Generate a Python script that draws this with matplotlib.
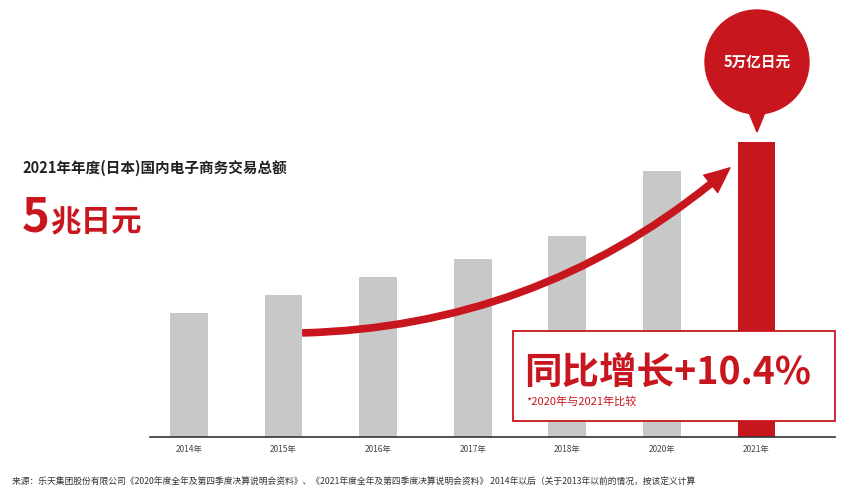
import matplotlib.pyplot as plt
import matplotlib.patches as patch

plt.rcParams['font.family'] = ['Noto Sans CJK SC', 'DejaVu Sans']

years = ['2014年', '2015年', '2016年', '2017年', '2018年', '2020年', '2021年']
values = [124, 142, 160, 178, 201, 266, 295]
colors = ['#c8c8c8'] * 6 + ['#c8161e']
red = '#c8161e'

fig = plt.figure(figsize=(8.5, 5), dpi=100)
ax = fig.add_axes([150 / 850, 63 / 500, 685 / 850, 437 / 500])
ax.bar(range(len(years)), values, width=0.4, color=colors, zorder=2)
ax.set_xlim(-0.412, 6.83)
ax.set_ylim(0, 437)
for s in ['top', 'right', 'left']:
    ax.spines[s].set_visible(False)
ax.spines['bottom'].set_color('#333333')
ax.spines['bottom'].set_linewidth(1.2)
ax.set_yticks([])
ax.set_xticks(range(len(years)))
ax.set_xticklabels(years, fontsize=6, color='#444444')
ax.tick_params(axis='x', length=0, pad=6)

# overlay in pixel coordinates
ov = fig.add_axes([0, 0, 1, 1], facecolor='none')
ov.set_xlim(0, 850)
ov.set_ylim(500, 0)
ov.axis('off')

arrow = patch.FancyArrowPatch((300, 333), (732, 166),
                              connectionstyle='arc3,rad=0.18',
                              arrowstyle='simple,head_width=16,head_length=18,tail_width=4.5',
                              color=red, zorder=3)
ov.add_patch(arrow)

ov.add_patch(patch.Circle((757, 62), 52, color=red, zorder=4))
ov.add_patch(patch.Polygon([[748, 110], [766, 110], [757, 132]],
                           color=red, zorder=4))
ov.text(757, 62, '5万亿日元', color='white', fontsize=10.5, ha='center',
        va='center', fontweight='bold', zorder=5)

ov.add_patch(patch.Rectangle((513, 331), 322, 90, facecolor='white',
                             edgecolor=red, lw=1.3, zorder=6))
ov.text(524, 372, '同比增长+10.4%', color=red, fontsize=27,
        fontweight='bold', ha='left', va='center', zorder=7)
ov.text(526, 401, '*2020年与2021年比较', color=red, fontsize=8,
        ha='left', va='center', zorder=7)

ov.text(22, 168, '2021年年度(日本)国内电子商务交易总额', fontsize=10.5,
        fontweight='bold', color='#222222', ha='left', va='center')
ov.text(22, 218, '5', fontsize=34, fontweight='bold', color=red,
        ha='left', va='center')
ov.text(50, 222, '兆日元', fontsize=22, fontweight='bold', color=red,
        ha='left', va='center')

ov.text(12, 481, '来源：乐天集团股份有限公司《2020年度全年及第四季度决算说明会资料》、'
        '《2021年度全年及第四季度决算说明会资料》 2014年以后（关于2013年以前的情况，按该定义计算',
        fontsize=6.3, color='#333333', ha='left', va='center')

fig.savefig('out.png', dpi=100)
